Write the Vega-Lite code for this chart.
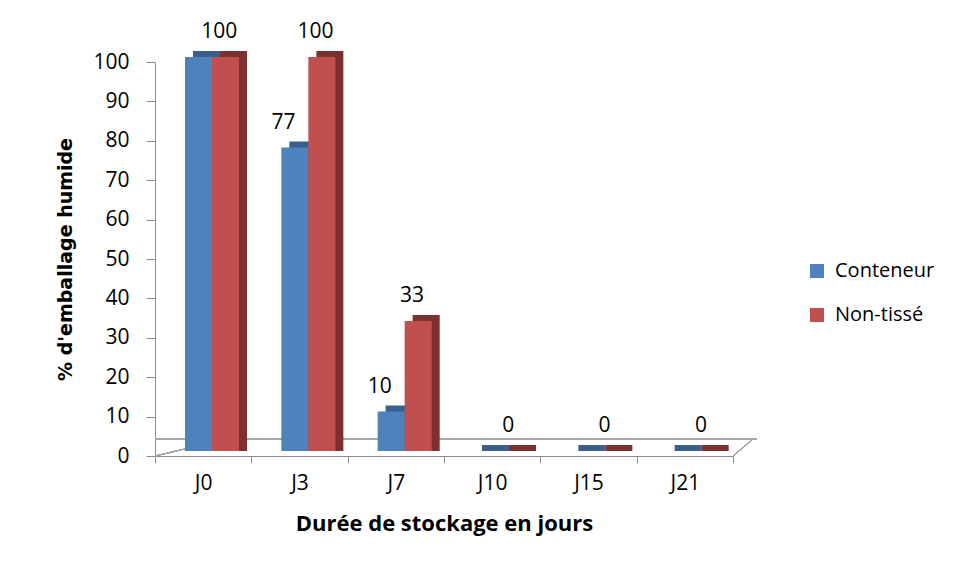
{
  "$schema": "https://vega.github.io/schema/vega-lite/v6.json",
  "width": 578,
  "height": 394,
  "autosize": {"type": "none"},
  "padding": {"left": 155, "top": 62, "right": 224, "bottom": 124},
  "background": "white",
  "config": {
    "view": {"stroke": null},
    "font": "Open Sans",
    "axis": {"domainColor": "#8C8C8C", "tickColor": "#8C8C8C", "labelColor": "#000000", "titleColor": "#000000", "grid": false}
  },
  "resolve": {"scale": {"xOffset": "independent"}},
  "data": {
    "values": [
      {"jour": "J0", "serie": "Conteneur", "valeur": 100},
      {"jour": "J0", "serie": "Non-tissé", "valeur": 100},
      {"jour": "J3", "serie": "Conteneur", "valeur": 77},
      {"jour": "J3", "serie": "Non-tissé", "valeur": 100},
      {"jour": "J7", "serie": "Conteneur", "valeur": 10},
      {"jour": "J7", "serie": "Non-tissé", "valeur": 33},
      {"jour": "J10", "serie": "Conteneur", "valeur": 0},
      {"jour": "J10", "serie": "Non-tissé", "valeur": 0},
      {"jour": "J15", "serie": "Conteneur", "valeur": 0},
      {"jour": "J15", "serie": "Non-tissé", "valeur": 0},
      {"jour": "J21", "serie": "Conteneur", "valeur": 0},
      {"jour": "J21", "serie": "Non-tissé", "valeur": 0}
    ]
  },
  "encoding": {
    "x": {
      "field": "jour", "type": "nominal", "sort": ["J0", "J3", "J7", "J10", "J15", "J21"],
      "scale": {"paddingInner": 0, "paddingOuter": 0},
      "axis": {
        "title": "Durée de stockage en jours", "labelAngle": 0, "labelFontSize": 21, "tickBand": "extent",
        "tickSize": 7, "labelPadding": 9, "titleFontSize": 22, "titleFontWeight": "bold", "titlePadding": 20
      }
    },
    "y": {
      "field": "valeur", "type": "quantitative",
      "scale": {"domain": [0, 100], "nice": false},
      "axis": {
        "title": "% d'emballage humide", "values": [0, 10, 20, 30, 40, 50, 60, 70, 80, 90, 100],
        "labelFontSize": 21, "tickSize": 9, "labelPadding": 17, "titleFont": "DejaVu Sans", "titleFontSize": 19, "titleFontWeight": "bold", "titlePadding": 17
      }
    }
  },
  "layer": [
    {
      "mark": {"type": "rule", "color": "#A6A6A6", "strokeWidth": 1, "yOffset": -17, "xOffset": 24, "x2Offset": 20},
      "encoding": {"x": null, "y": {"datum": 0}}
    },
    {
      "mark": {"type": "rule", "color": "#A6A6A6", "strokeWidth": 1, "x2Offset": 24, "y2Offset": -17},
      "encoding": {"x": {"datum": "J0", "bandPosition": 0}, "x2": {"datum": "J0"}, "y": {"datum": 0}, "y2": {"datum": 0}}
    },
    {
      "mark": {"type": "rule", "color": "#A6A6A6", "strokeWidth": 1, "x2Offset": 20, "y2Offset": -17},
      "encoding": {"x": {"datum": "J21", "bandPosition": 1}, "x2": {"datum": "J21", "bandPosition": 1}, "y": {"datum": 0}, "y2": {"datum": 0}}
    },
    {
      "mark": {"type": "bar", "yOffset": -11, "y2Offset": -5},
      "encoding": {
        "xOffset": {"field": "serie", "sort": ["Conteneur", "Non-tissé"], "scale": {"paddingInner": 0, "paddingOuter": 0.783, "align": 0.898}},
        "y2": {"datum": 0},
        "color": {"condition": {"test": "datum.serie == 'Conteneur'", "value": "#3B5F8C"}, "value": "#7A3231"}
      }
    },
    {
      "mark": {"type": "bar", "yOffset": -5, "y2Offset": -5},
      "encoding": {
        "xOffset": {"field": "serie", "sort": ["Conteneur", "Non-tissé"], "scale": {"paddingInner": 0, "paddingOuter": 0.783, "align": 0.709}},
        "y2": {"datum": 0},
        "color": {
          "field": "serie", "type": "nominal",
          "scale": {"domain": ["Conteneur", "Non-tissé"], "range": ["#4F81BD", "#C0504D"]},
          "legend": {
            "title": null, "orient": "none", "legendX": 652, "legendY": 199, "symbolType": "square",
            "symbolSize": 196, "symbolStrokeWidth": 0, "labelFontSize": 20, "rowPadding": 24, "labelOffset": 8
          }
        }
      }
    },
    {
      "transform": [
        {"filter": "!(datum.serie == 'Conteneur' && datum.jour == 'J0') && !(datum.serie == 'Conteneur' && datum.valeur == 0)"}
      ],
      "mark": {"type": "text", "fontSize": 21, "dy": -30, "dx": 0, "baseline": "middle", "color": "#000000"},
      "encoding": {
        "xOffset": {"field": "serie", "sort": ["Conteneur", "Non-tissé"], "scale": {"paddingInner": 0, "paddingOuter": 1.41, "align": 0.5}},
        "text": {"field": "valeur", "type": "quantitative"}
      }
    }
  ]
}
